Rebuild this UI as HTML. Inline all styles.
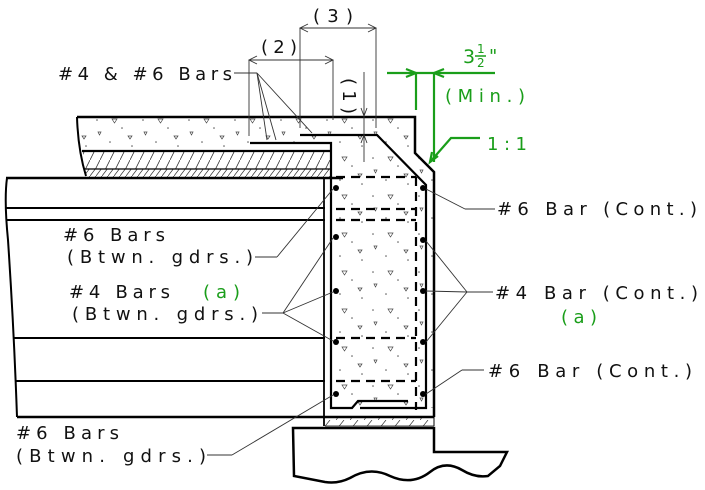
<!DOCTYPE html>
<html><head><meta charset="utf-8"><style>
html,body{margin:0;padding:0;background:#fff;}
svg{display:block;}
text{font-family:"DejaVu Sans","Liberation Sans",sans-serif;font-size:18px;fill:#111;}
.g{fill:#1a9e1a;}
</style></head><body>
<svg width="705" height="490" viewBox="0 0 705 490" xmlns="http://www.w3.org/2000/svg">
<defs>
<pattern id="hat" width="10" height="20" patternUnits="userSpaceOnUse">
<line x1="0" y1="20" x2="10" y2="0" stroke="#333" stroke-width="0.8"/>
</pattern>
<pattern id="hat2" width="6" height="8" patternUnits="userSpaceOnUse">
<line x1="0" y1="8" x2="6" y2="0" stroke="#333" stroke-width="0.7"/>
</pattern>
<pattern id="hat3" width="14" height="10" patternUnits="userSpaceOnUse">
<line x1="0" y1="10" x2="8" y2="0" stroke="#333" stroke-width="0.7"/>
</pattern>
<pattern id="conc" width="46" height="38" patternUnits="userSpaceOnUse">
<circle cx="5" cy="6" r="0.8" fill="#555"/><circle cx="30" cy="14" r="0.8" fill="#555"/>
<circle cx="18" cy="28" r="0.8" fill="#555"/><circle cx="40" cy="32" r="0.8" fill="#555"/>
<path d="M20 5 l5 0 l-2.5 4z" fill="none" stroke="#444" stroke-width="0.7"/>
<path d="M36 22 l4 0 l-2 3z" fill="none" stroke="#444" stroke-width="0.7"/>
<path d="M6 18 l3 0 l-1.5 3z" fill="none" stroke="#444" stroke-width="0.7"/>
</pattern>
</defs>

<path d="M77 117 L415 117 L415 153 L433 172 L433 408 L332 408 L332 143 L250 143 L250 150 L82 150 Z" fill="url(#conc)"/>
<rect x="83" y="151" width="248" height="18" fill="url(#hat)"/>
<rect x="85" y="169" width="246" height="8" fill="url(#hat2)"/>
<g stroke="#000" fill="none">
<path d="M77 117 L415 117 L415 153 L434 172 L434 417" stroke-width="2.5"/>
<path d="M77 117 Q78 150 86 176" stroke-width="2"/>
<line x1="82" y1="151" x2="331" y2="151" stroke-width="2.2"/>
<line x1="85" y1="169" x2="331" y2="169" stroke-width="1.2"/>
<path d="M250 143 L331 143 L331 408 L352 408 L358 401 L408 401" stroke-width="2.2"/>
<path d="M300 135 L377 135 L426 185 L426 408 L360 408" stroke-width="2.2"/>
<line x1="6" y1="178" x2="343" y2="178" stroke-width="2.5"/>
<path d="M7 178 Q4 200 8 240 Q14 330 17 417" stroke-width="2"/>
<line x1="5" y1="208" x2="325" y2="208" stroke-width="2"/>
<line x1="6" y1="220" x2="325" y2="220" stroke-width="2"/>
<line x1="13" y1="338" x2="325" y2="338" stroke-width="2"/>
<line x1="15" y1="381" x2="325" y2="381" stroke-width="2"/>
<line x1="17" y1="417" x2="434" y2="417" stroke-width="2.5"/>
<line x1="324" y1="178" x2="324" y2="426" stroke-width="1.8"/>
<line x1="434" y1="417" x2="434" y2="426" stroke-width="1"/>
<g stroke-width="2.2" stroke-dasharray="9,6">
<line x1="336" y1="177" x2="416" y2="177"/>
<line x1="336" y1="209" x2="416" y2="209"/>
<line x1="336" y1="220" x2="416" y2="220"/>
<line x1="336" y1="338" x2="416" y2="338"/>
<line x1="336" y1="381" x2="416" y2="381"/>
<line x1="416" y1="177" x2="416" y2="410"/>
</g>
</g>
<rect x="325" y="418" width="109" height="8" fill="url(#hat3)"/>
<line x1="325" y1="426" x2="434" y2="426" stroke="#000" stroke-width="0.8"/>
<path d="M293 428 L434 428 L434 452 L507 452 L500 466 L488 476 Q475 478 462 470 Q445 460 430 472 Q412 486 390 476 Q370 466 350 478 Q338 484 325 482 L294 476 Z" fill="none" stroke="#000" stroke-width="2.5"/>

<g fill="#000">
<circle cx="336" cy="188" r="3"/><circle cx="336" cy="237" r="3"/><circle cx="336" cy="291" r="3"/><circle cx="336" cy="342" r="3"/><circle cx="336" cy="394" r="3"/>
<circle cx="423" cy="188" r="3"/><circle cx="423" cy="240" r="3"/><circle cx="423" cy="291" r="3"/><circle cx="423" cy="342" r="3"/><circle cx="423" cy="394" r="3"/>
</g>

<g stroke="#333" stroke-width="0.9" fill="none">
<line x1="300" y1="28" x2="376" y2="28"/>
<line x1="300" y1="28" x2="300" y2="128"/>
<line x1="376" y1="28" x2="376" y2="128"/>
<path d="M308 24 L300 28 L308 32 M368 24 L376 28 L368 32"/>
<line x1="249" y1="60" x2="333" y2="60"/>
<line x1="249" y1="60" x2="249" y2="136"/>
<line x1="333" y1="60" x2="333" y2="120"/>
<path d="M257 56 L249 60 L257 64 M325 56 L333 60 L325 64"/>
<line x1="364" y1="72" x2="364" y2="162"/>
<path d="M361 108 L364 116 L367 108 M361 143 L364 135 L367 143"/>
<line x1="234" y1="73" x2="257" y2="73"/>
<line x1="257" y1="73" x2="276" y2="140"/><line x1="257" y1="73" x2="267" y2="140"/><line x1="257" y1="73" x2="312" y2="133"/>
<line x1="495" y1="209" x2="465" y2="209"/><line x1="465" y1="209" x2="426" y2="189"/>
<line x1="493" y1="292" x2="467" y2="292"/>
<line x1="467" y1="292" x2="426" y2="241"/><line x1="467" y1="292" x2="426" y2="291"/><line x1="467" y1="292" x2="426" y2="342"/>
<line x1="484" y1="370" x2="462" y2="370"/><line x1="462" y1="370" x2="426" y2="394"/>
<line x1="255" y1="257" x2="277" y2="257"/><line x1="277" y1="257" x2="333" y2="189"/>
<line x1="262" y1="313" x2="283" y2="313"/>
<line x1="283" y1="313" x2="333" y2="238"/><line x1="283" y1="313" x2="333" y2="292"/><line x1="283" y1="313" x2="333" y2="341"/>
<line x1="207" y1="455" x2="232" y2="455"/><line x1="232" y1="455" x2="333" y2="395"/>
</g>

<g stroke="#1a9e1a" stroke-width="2.2" fill="none">
<line x1="387" y1="73" x2="495" y2="73"/>
<line x1="416" y1="73" x2="416" y2="110"/>
<line x1="434" y1="73" x2="434" y2="162"/>
<path d="M406 69 L416 73 L406 77 M444 69 L434 73 L444 77"/>
<path d="M480 138 L451 138 L430 162"/>
<path d="M432 152 L430 162 L438 156"/>
</g>

<text x="333" y="22" text-anchor="middle" textLength="40">(3)</text>
<text x="279" y="53" text-anchor="middle" textLength="36">(2)</text>
<text transform="translate(343,96) rotate(90)" text-anchor="middle" textLength="36">(1)</text>
<text class="g" x="463" y="63" style="font-size:19px">3</text>
<text class="g" x="477" y="53" style="font-size:12px">1</text>
<text class="g" x="477" y="67" style="font-size:12px">2</text>
<line x1="475" y1="56" x2="486" y2="56" stroke="#1a9e1a" stroke-width="1.5"/>
<text class="g" x="489" y="62">"</text>
<text class="g" x="445" y="102" textLength="80">(Min.)</text>
<text class="g" x="487" y="150" textLength="40">1:1</text>
<text x="58" y="80" textLength="174">#4 &amp; #6 Bars</text>
<text x="497" y="215" textLength="200">#6 Bar (Cont.)</text>
<text x="495" y="299" textLength="203">#4 Bar (Cont.)</text>
<text class="g" x="561" y="323" textLength="36">(a)</text>
<text x="488" y="377" textLength="204">#6 Bar (Cont.)</text>
<text x="63" y="241" textLength="102">#6 Bars</text>
<text x="67" y="263" textLength="186">(Btwn. gdrs.)</text>
<text x="69" y="298" textLength="101">#4 Bars</text>
<text class="g" x="203" y="298" textLength="37">(a)</text>
<text x="72" y="320" textLength="186">(Btwn. gdrs.)</text>
<text x="16" y="439" textLength="103">#6 Bars</text>
<text x="16" y="462" textLength="190">(Btwn. gdrs.)</text>
</svg>
</body></html>
